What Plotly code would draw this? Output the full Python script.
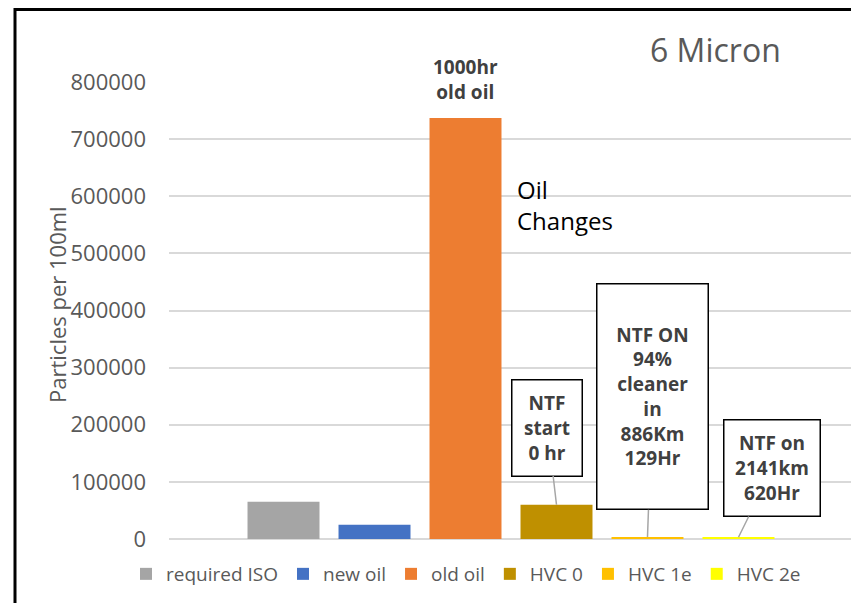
import plotly.graph_objects as go

series_names = ["required ISO", "new oil", "old oil", "HVC 0", "HVC 1e", "HVC 2e"]
series_values = [65000, 25000, 737000, 60000, 3600, 3000]
series_colors = ["#A5A5A5", "#4472C4", "#ED7D31", "#BF9000", "#FFC000", "#FFFF00"]
y_ticks = [0, 100000, 200000, 300000, 400000, 500000, 600000, 700000, 800000]

# page body has an 8px default margin; work in screenshot pixels and shift
OFF = 8
W, H = 859 - OFF, 603 - OFF
PW, PH = 684, 457
ML, MT = 169 - OFF, 82 - OFF
MR, MB = W - ML - PW, H - MT - PH
BARGAP = 0.2018
BARGROUPGAP = 0.209

FONT = "Open Sans"
GRAY = "#595959"
DARK = "#404040"

fig = go.Figure()
for name, val, col in zip(series_names, series_values, series_colors):
    fig.add_trace(go.Bar(x=[""], y=[val], name=name, marker=dict(color=col, line=dict(width=0))))


def px_x(px):
    return (px - OFF - ML) / PW


def px_y(px):
    return (H - MB - (px - OFF)) / PH


def bar_center_paper(i):
    slot = (1 - BARGAP) / len(series_names)
    return BARGAP / 2 + (i + 0.5) * slot


annotations = [
    dict(text="<b>1000hr<br>old oil</b>", xref="paper", yref="paper",
         x=bar_center_paper(2), y=px_y(79), showarrow=False,
         font=dict(family=FONT, size=19, color=DARK), xanchor="center", yanchor="middle"),
    dict(text="Oil<br>Changes", xref="paper", yref="paper", x=px_x(515), y=px_y(205),
         showarrow=False, align="left", xanchor="left", yanchor="middle",
         font=dict(family=FONT, size=24, color="#000000")),
    dict(text="6 Micron", xref="paper", yref="paper", x=px_x(715), y=px_y(50),
         showarrow=False, xanchor="center", yanchor="middle",
         font=dict(family=FONT, size=32, color=GRAY)),
    dict(text="Particles per 100ml", xref="paper", yref="paper", x=px_x(57), y=px_y(305),
         showarrow=False, textangle=-90, xanchor="center", yanchor="middle",
         font=dict(family=FONT, size=22, color=GRAY)),
]

boxes = [
    (3, "<b>NTF<br>start<br>0 hr</b>", -9, -77, 67, 93),
    (4, "<b>NTF ON<br>94%<br>cleaner<br>in<br>886Km<br>129Hr</b>", 5, -140, 108, 222),
    (5, "<b>NTF on<br>2141km<br>620Hr</b>", 34, -69, 93, 93),
]
for idx, txt, ax, ay, bw, bh in boxes:
    annotations.append(dict(
        text=txt, xref="paper", yref="y", x=bar_center_paper(idx), y=series_values[idx],
        showarrow=True, arrowhead=0, arrowwidth=1.5, arrowcolor="#A6A6A6", ax=ax, ay=ay,
        standoff=0, width=bw, height=bh, borderpad=1, bordercolor="#000000", borderwidth=1.5,
        bgcolor="#FFFFFF", font=dict(family=FONT, size=19, color=DARK), align="center", valign="middle",
    ))

shapes = [
    dict(type="line", xref="paper", yref="paper", x0=px_x(14), x1=px_x(870), y0=px_y(9.5), y1=px_y(9.5),
         line=dict(color="#000000", width=3)),
    dict(type="line", xref="paper", yref="paper", x0=px_x(15), x1=px_x(15), y0=px_y(8), y1=px_y(610),
         line=dict(color="#000000", width=3)),
]

fig.update_layout(
    width=W, height=H,
    margin=dict(l=ML, r=MR, t=MT, b=MB, autoexpand=False),
    paper_bgcolor="#FFFFFF", plot_bgcolor="#FFFFFF",
    barmode="group", bargap=BARGAP, bargroupgap=BARGROUPGAP,
    font=dict(family=FONT, color=GRAY),
    showlegend=True,
    legend=dict(orientation="h", x=px_x(466), y=px_y(574), xanchor="center", yanchor="middle",
                font=dict(family=FONT, size=19, color=GRAY), itemwidth=30, traceorder="normal"),
    annotations=annotations,
    shapes=shapes,
    xaxis=dict(type="category", showticklabels=False, showgrid=False, zeroline=False,
               showline=False, ticks="", fixedrange=True),
    yaxis=dict(range=[0, 800000], tickvals=y_ticks, tickformat="d", showgrid=True,
               gridcolor="#D9D9D9", gridwidth=1.5, zeroline=True, zerolinecolor="#D9D9D9",
               zerolinewidth=1.5, showline=False, ticks="", ticklabelstandoff=22,
               tickfont=dict(family=FONT, size=22, color=GRAY)),
)

fig.write_html("out.html")
